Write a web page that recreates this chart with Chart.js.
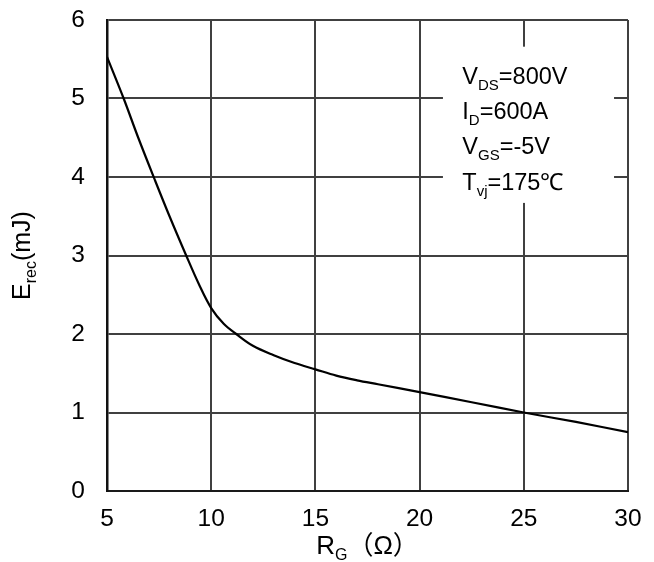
<!DOCTYPE html>
<html>
<head>
<meta charset="utf-8">
<script src="https://cdn.jsdelivr.net/npm/chart.js@4/dist/chart.umd.min.js"></script>
<style>
html,body{margin:0;padding:0;background:#fff;}
#wrap{width:654px;height:562px;position:relative;}
</style>
</head>
<body>
<div id="wrap"><canvas id="c" width="654" height="562"></canvas></div>
<script>
// Data
const rgValues = [5, 5.8, 6.5, 7.3, 8, 8.8, 9.4, 10, 10.6, 11.2, 12, 13, 14, 15, 16, 17, 18, 20, 22.5, 25, 27.5, 30];
const erecValues = [5.53, 5.0, 4.5, 3.96, 3.5, 3.0, 2.64, 2.33, 2.13, 2.0, 1.85, 1.73, 1.63, 1.55, 1.47, 1.41, 1.36, 1.26, 1.13, 1.0, 0.88, 0.75];
const xTicks = [5, 10, 15, 20, 25, 30];
const yTicks = [0, 1, 2, 3, 4, 5, 6];
const conditions = [
  ["V", "DS", "=800V"],
  ["I", "D", "=600A"],
  ["V", "GS", "=-5V"],
  ["T", "vj", "=175\u2103"]
];
const xTitle = ["R", "G", "\uFF08\u03A9\uFF09"];
const yTitle = ["E", "rec", "(mJ)"];

const FONT = '"Liberation Sans", Arial, sans-serif';
const FONT_CJK = '"Liberation Sans", Arial, "Noto Sans CJK SC", sans-serif';

function drawSub(ctx, x, y, parts, big, small, drop, fam) {
  fam = fam || FONT;
  ctx.font = big + 'px ' + fam;
  ctx.fillText(parts[0], x, y);
  x += ctx.measureText(parts[0]).width;
  ctx.font = small + 'px ' + fam;
  ctx.fillText(parts[1], x, y + drop);
  x += ctx.measureText(parts[1]).width;
  ctx.font = big + 'px ' + fam;
  ctx.fillText(parts[2], x, y);
  return x + ctx.measureText(parts[2]).width;
}
function measureSub(ctx, parts, big, small, fam) {
  fam = fam || FONT;
  ctx.font = big + 'px ' + fam;
  let w = ctx.measureText(parts[0]).width + ctx.measureText(parts[2]).width;
  ctx.font = small + 'px ' + fam;
  w += ctx.measureText(parts[1]).width;
  return w;
}

const textPlugin = {
  id: 'textPlugin',
  beforeDatasetsDraw(chart) {
    const ctx = chart.ctx;
    const xs = chart.scales.x, ys = chart.scales.y;
    ctx.save();
    ctx.fillStyle = '#fff';
    const bx0 = xs.getPixelForValue(21.12), bx1 = xs.getPixelForValue(29.33);
    const by0 = ys.getPixelForValue(5.66), by1 = ys.getPixelForValue(3.67);
    ctx.fillRect(bx0, by0, bx1 - bx0, by1 - by0);
    ctx.restore();
  },
  afterDraw(chart) {
    const ctx = chart.ctx;
    const xs = chart.scales.x, ys = chart.scales.y;
    const area = chart.chartArea;
    ctx.save();
    ctx.fillStyle = '#000';
    ctx.textBaseline = 'alphabetic';
    ctx.textAlign = 'left';
    const tx = xs.getPixelForValue(22.05);
    let ty = ys.getPixelForValue(5.19);
    conditions.forEach((c) => {
      drawSub(ctx, tx, ty, c, 23.5, 15, 6, FONT);
      ty += 35.4;
    });
    const cx = (area.left + area.right) / 2;
    const w = measureSub(ctx, xTitle, 26, 16, FONT_CJK);
    drawSub(ctx, cx - w / 2, 554, xTitle, 26, 16, 6, FONT_CJK);
    ctx.translate(30, (area.top + area.bottom) / 2);
    ctx.rotate(-Math.PI / 2);
    const wy = measureSub(ctx, yTitle, 25, 16, FONT);
    drawSub(ctx, -wy / 2, 0, yTitle, 25, 16, 6, FONT);
    ctx.restore();
  }
};

new Chart(document.getElementById('c'), {
  type: 'line',
  data: {
    datasets: [{
      data: rgValues.map((x, i) => ({ x: x, y: erecValues[i] })),
      borderColor: '#000',
      borderWidth: 2.2,
      pointRadius: 0,
      fill: false,
      tension: 0.35
    }]
  },
  options: {
    responsive: false,
    animation: false,
    devicePixelRatio: 1,
    layout: { padding: { left: 0, top: 20, right: 26, bottom: 0 } },
    plugins: { legend: { display: false }, tooltip: { enabled: false } },
    scales: {
      x: {
        type: 'linear', min: 5, max: 30,
        afterBuildTicks(s) { s.ticks = xTicks.map(v => ({ value: v })); },
        afterFit(s) { s.height = 71; s.paddingLeft = 0; s.paddingRight = 0; },
        ticks: { color: '#000', font: { family: FONT, size: 24.5 }, padding: 14, maxRotation: 0 },
        grid: { color: '#404040', lineWidth: 2, drawTicks: false },
        border: { color: '#1a1a1a', width: 2 }
      },
      y: {
        type: 'linear', min: 0, max: 6,
        afterBuildTicks(s) { s.ticks = yTicks.map(v => ({ value: v })); },
        afterFit(s) { s.width = 107; s.paddingTop = 0; s.paddingBottom = 0; },
        ticks: { color: '#000', font: { family: FONT, size: 24.5 }, padding: 22 },
        grid: { color: '#404040', lineWidth: 2, drawTicks: false },
        border: { color: '#111', width: 2.5 }
      }
    }
  },
  plugins: [textPlugin]
});
</script>
</body>
</html>
